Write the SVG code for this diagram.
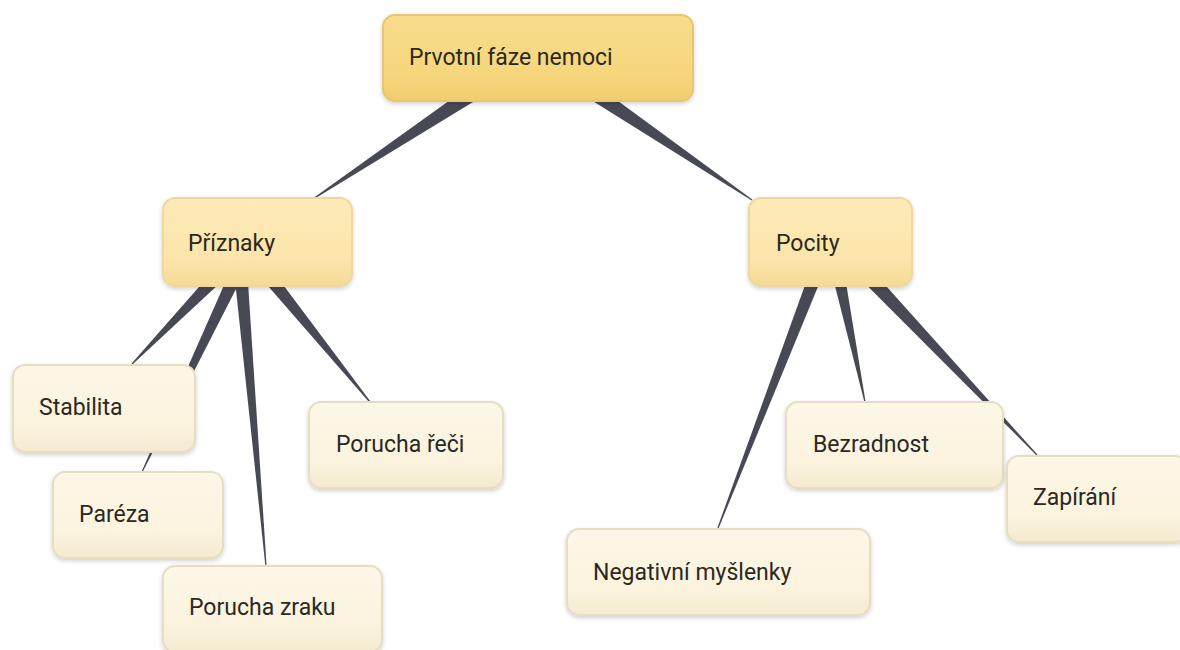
<svg xmlns="http://www.w3.org/2000/svg" width="1180" height="650" viewBox="0 0 1180 650">
<defs>
<linearGradient id="gRoot" x1="0" y1="0" x2="0" y2="1">
<stop offset="0" stop-color="#f9dd8c"/><stop offset="0.7" stop-color="#f6d67c"/><stop offset="1" stop-color="#f1cd6c"/>
</linearGradient>
<linearGradient id="gMid" x1="0" y1="0" x2="0" y2="1">
<stop offset="0" stop-color="#fdeab8"/><stop offset="0.7" stop-color="#fbe5aa"/><stop offset="1" stop-color="#f5da98"/>
</linearGradient>
<linearGradient id="gLeaf" x1="0" y1="0" x2="0" y2="1">
<stop offset="0" stop-color="#fdf7e7"/><stop offset="0.7" stop-color="#fbf3de"/><stop offset="1" stop-color="#f4ead0"/>
</linearGradient>
<filter id="sh" x="-10%" y="-10%" width="120%" height="130%">
<feDropShadow dx="0" dy="2" stdDeviation="2" flood-color="#000" flood-opacity="0.18"/>
</filter>
<style>
.box{filter:url(#sh);stroke-width:2}
.root{fill:url(#gRoot);stroke:#e6c673}
.mid{fill:url(#gMid);stroke:#eed8a0}
.leaf{fill:url(#gLeaf);stroke:#e7ddc2}
.lbl{font-family:Roboto,"Liberation Sans",sans-serif;font-size:23px;fill:#2b2821}
.con{fill:#474a55}
</style>
</defs>
<rect width="1180" height="650" fill="#ffffff"/>
<g id="connectors">
<polygon class="con" points="466.9,88.1 475.1,100.7 313.3,199.5 312.7,198.5"/>
<polygon class="con" points="591.9,100.5 600.3,88.1 752.3,199.5 751.7,200.5"/>
<polygon class="con" points="209.3,275.3 218.6,284.3 132.4,364.4 131.6,363.6"/>
<polygon class="con" points="228.4,275.2 240.2,280.8 142.5,472.3 141.5,471.7"/>
<polygon class="con" points="234.7,277.6 247.6,276.4 266.6,565.95 265.4,566.05"/>
<polygon class="con" points="265.6,283.3 275.8,275.1 370.5,401.6 369.5,402.4"/>
<polygon class="con" points="808.5,275.4 820.7,280.0 718.6,528.2 717.4,527.8"/>
<polygon class="con" points="833.1,278.4 844.9,276.0 865.6,401.9 864.4,402.1"/>
<polygon class="con" points="866.0,284.5 876.2,274.9 1037.4,454.6 1036.6,455.4"/>
</g>
<g id="node-root">
<rect class="box root" x="383" y="15" width="310" height="86" rx="12"/>
<text class="lbl" x="409" y="65">Prvotní fáze nemoci</text>
</g>
<g id="node-priznaky">
<rect class="box mid" x="163" y="198" width="189" height="88" rx="12"/>
<text class="lbl" x="188" y="251">Příznaky</text>
</g>
<g id="node-pocity">
<rect class="box mid" x="749" y="198" width="163" height="88" rx="12"/>
<text class="lbl" x="776" y="251">Pocity</text>
</g>
<g id="node-stabilita">
<rect class="box leaf" x="13" y="365" width="182" height="87" rx="12"/>
<text class="lbl" x="39" y="415">Stabilita</text>
</g>
<g id="node-pareza">
<rect class="box leaf" x="53" y="472" width="170" height="86" rx="12"/>
<text class="lbl" x="79" y="522">Paréza</text>
</g>
<g id="node-porucha-zraku">
<rect class="box leaf" x="163" y="566" width="219" height="86" rx="12"/>
<text class="lbl" x="189" y="615">Porucha zraku</text>
</g>
<g id="node-porucha-reci">
<rect class="box leaf" x="309" y="402" width="194" height="86" rx="12"/>
<text class="lbl" x="336" y="452">Porucha řeči</text>
</g>
<g id="node-negativni">
<rect class="box leaf" x="567" y="529" width="303" height="86" rx="12"/>
<text class="lbl" x="593" y="580">Negativní myšlenky</text>
</g>
<g id="node-bezradnost">
<rect class="box leaf" x="786" y="402" width="217" height="86" rx="12"/>
<text class="lbl" x="813" y="452">Bezradnost</text>
</g>
<g id="node-zapirani">
<rect class="box leaf" x="1007" y="456" width="180" height="86" rx="12"/>
<text class="lbl" x="1033" y="505">Zapírání</text>
</g>
</svg>
